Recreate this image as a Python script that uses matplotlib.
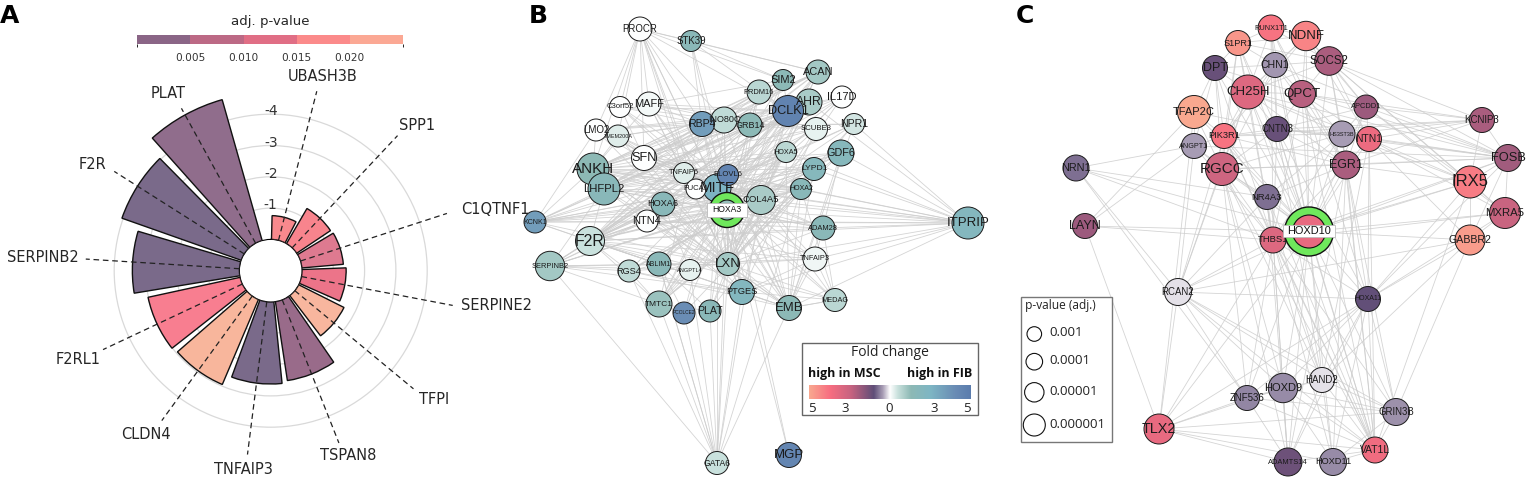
import numpy as np
import matplotlib
matplotlib.use("Agg")
import matplotlib.pyplot as plt
from matplotlib.colors import BoundaryNorm, LinearSegmentedColormap, ListedColormap, Normalize
from matplotlib.patches import Circle, Rectangle

W, H = 1529, 480

# ============================
# Panel A data
# ============================
genes = ["UBASH3B", "SPP1", "C1QTNF1", "SERPINE2", "TFPI", "TSPAN8",
         "TNFAIP3", "CLDN4", "F2RL1", "SERPINB2", "F2R", "PLAT"]
log_fc = [-0.76, -1.30, -1.33, -1.41, -1.62, -2.55,
          -2.62, -2.95, -3.01, -3.42, -4.04, -4.68]
bar_colors = ["#f8898d", "#f8848d", "#de7a90", "#ec7489", "#f8b69e", "#996b8a",
              "#7a6a8a", "#f8b69c", "#f87e90", "#7a6a8a", "#7a6a8a", "#906d8c"]
gene_label_xy = [(322.5, 76.7), (417.3, 125), (495, 209), (497, 306), (433.7, 400), (348, 455),
                 (243.7, 469.3), (146, 434.3), (77.7, 359.3), (42.7, 257.7), (92, 164.3), (168.3, 94)]
p_bounds = [0.0, 0.005, 0.010, 0.015, 0.020, 0.025]
p_bin_colors = ["#8a6586", "#bc6985", "#e06e85", "#fb8a8a", "#fba894"]

# ============================
# Panel B data
# ============================
b_names = ["PROCR", "STK39", "ACAN", "SIM2", "PRDM16", "IL17D", "AHR", "DCLK1", "MAFF", "C3orf52",
           "NPR1", "SCUBE3", "GRB14", "INO80C", "RBP4", "LMO2", "TMEM200A", "HOXA5", "GDF6", "SFN",
           "ANKH", "TNFAIP6", "MITF", "ELOVL6", "LYPD1", "FUCA1", "LHFPL2", "HOXA2", "COL4A5", "HOXA6",
           "HOXA3", "KCNK1", "NTN4", "ADAM28", "ITPRIP", "F2R", "SERPINB2", "RGS4", "ABLIM1", "ANGPTL4",
           "LXN", "TNFAIP3", "PTGES", "MEDAG", "TMTC1", "PCOLCE2", "PLAT", "EMB", "GATA6", "MGP"]
b_x = [640, 691, 818, 783, 759, 842, 809, 788, 649, 620,
       854, 816, 750, 724, 702, 596, 618, 786, 841, 644,
       593, 684, 717, 728, 814, 696, 604, 801, 761, 663,
       727, 535, 647, 823, 968, 590, 550, 629, 659, 690,
       728, 815, 742, 835, 659, 684, 710, 789, 717, 789]
b_y = [29, 41, 72, 80, 92, 97, 102, 111, 104, 107,
       124, 129, 125, 120, 124, 130, 136, 152, 153, 158,
       169, 173, 188, 175, 169, 189, 189, 189, 200, 204,
       210, 222, 221, 228, 223, 241, 266, 271, 264, 270,
       264, 259, 292, 300, 304, 313, 311, 308, 463, 455]
b_r = [12, 10.5, 12, 10.5, 12, 11, 13, 15.5, 12, 10.5,
       10.5, 11.5, 12, 13, 12.5, 11, 11, 10.5, 13, 12.5,
       16, 10.5, 14, 10.5, 11.5, 10, 16, 10.5, 14.5, 12,
       10, 11, 11, 12, 16, 14.5, 14.7, 11, 12, 10.5,
       11.5, 12, 12.5, 11.5, 13, 11, 11, 12.5, 11.5, 12.5]
b_fc = [0, 1.5, 1, 1.4, 0.7, 0, 0.9, 4.6, 0.1, 0,
        0.4, 0.2, 1.4, 0.6, 3.4, 0, 0.3, 0.7, 1.8, 0,
        1.3, 0.3, 2.6, 4.5, 1.8, 0, 1.6, 1.6, 0.9, 1.6,
        1.2, 3.4, 0, 1.5, 2, 0.5, 1, 0.6, 1.5, 0.2,
        1, 0.15, 2.1, 0.7, 1.1, 4, 1.5, 1.4, 0.5, 4.4]
b_font = [6.9, 6.9, 7.9, 8, 5.4, 8, 8.8, 9.2, 8, 5.6,
          7.6, 5.6, 6.5, 6.5, 7.6, 7, 3.9, 5.2, 7.8, 9.2,
          10.9, 5.3, 10.8, 5.5, 6.1, 5.5, 8.2, 5, 6.8, 6.7,
          0, 5, 8, 5.4, 9.5, 11.4, 5.4, 6.6, 5, 4.1,
          9.5, 5.3, 6.7, 5.3, 6, 3.5, 7.6, 9.4, 6.2, 9.5]
b_links = {
    "PROCR": "STK39 LMO2 C3orf52 MAFF TMEM200A ANKH SFN RBP4 INO80C TNFAIP6 HOXA3 MITF FUCA1 ACAN SIM2 DCLK1 LXN",
    "STK39": "RBP4 ACAN DCLK1 SIM2 HOXA3 ELOVL6",
    "ACAN": "DCLK1 RBP4 GRB14 INO80C SFN LHFPL2 MITF HOXA3 COL4A5 LXN F2R ANKH",
    "SIM2": "DCLK1 RBP4 MAFF HOXA3 MITF LXN ANKH F2R",
    "PRDM16": "DCLK1 GRB14 SFN ANKH HOXA3 LHFPL2 LXN F2R MITF",
    "IL17D": "DCLK1 RBP4 HOXA5 HOXA3 LXN MITF F2R LHFPL2",
    "AHR": "GRB14 RBP4 ANKH LHFPL2 F2R HOXA3 MITF COL4A5 LXN ABLIM1 SERPINB2",
    "DCLK1": "MAFF C3orf52 LMO2 SFN ANKH LHFPL2 NTN4 HOXA6 F2R HOXA3 MITF ELOVL6 COL4A5 LXN PTGES TMTC1 RGS4 ABLIM1 SERPINB2 KCNK1",
    "MAFF": "RBP4 GRB14 HOXA3 MITF SCUBE3 ANKH LXN TNFAIP6",
    "C3orf52": "RBP4 INO80C SFN HOXA3 MITF COL4A5",
    "NPR1": "RBP4 GRB14 LXN HOXA3 F2R EMB HOXA2 MITF",
    "SCUBE3": "INO80C RBP4 ANKH LHFPL2 F2R MITF HOXA3 LXN PTGES",
    "GRB14": "SFN ANKH LHFPL2 F2R NTN4 HOXA6 HOXA3 KCNK1 LXN",
    "INO80C": "LMO2 TMEM200A SFN ANKH LHFPL2 F2R HOXA3 MITF LXN EMB",
    "RBP4": "LMO2 TMEM200A SFN ANKH LHFPL2 F2R HOXA3 LXN EMB PTGES TMTC1",
    "LMO2": "KCNK1 ANKH HOXA3 MITF TNFAIP6 LXN",
    "TMEM200A": "SFN HOXA3 MITF COL4A5 ANKH LXN",
    "HOXA5": "ANKH LHFPL2 F2R KCNK1 HOXA3 MITF LXN ABLIM1 TMTC1 SERPINB2 EMB",
    "GDF6": "ITPRIP ANKH LHFPL2 HOXA3 MITF LXN EMB ADAM28 TMTC1 F2R RGS4",
    "SFN": "TNFAIP6 HOXA3 COL4A5 LXN LYPD1 ADAM28 HOXA2",
    "ANKH": "KCNK1 LHFPL2 TNFAIP6 MITF HOXA3 COL4A5 LXN LYPD1 HOXA2 ADAM28 EMB PTGES",
    "LHFPL2": "KCNK1 F2R SERPINB2 NTN4 HOXA3 COL4A5 LXN HOXA2 ADAM28 LYPD1",
    "TNFAIP6": "HOXA3 LXN EMB PTGES COL4A5 HOXA2 F2R KCNK1",
    "ELOVL6": "LXN EMB F2R ABLIM1 TMTC1 PTGES",
    "LYPD1": "HOXA3 MITF F2R NTN4 LXN ITPRIP TMTC1 RGS4 KCNK1 EMB",
    "HOXA2": "HOXA3 MITF F2R NTN4 LXN ITPRIP TMTC1 PLAT PCOLCE2 EMB SERPINB2 MEDAG",
    "COL4A5": "KCNK1 F2R ITPRIP EMB LXN PLAT TMTC1 ADAM28 MEDAG TNFAIP3 RGS4 SERPINB2",
    "HOXA6": "KCNK1 F2R LXN HOXA3 EMB PTGES ANGPTL4",
    "KCNK1": "NTN4 F2R HOXA3 MITF LXN HOXA2 ITPRIP ABLIM1",
    "NTN4": "F2R LXN HOXA3 EMB ADAM28 TNFAIP3 PTGES ITPRIP",
    "ADAM28": "ITPRIP HOXA3 F2R LXN MEDAG TNFAIP3 EMB",
    "ITPRIP": "NPR1 AHR HOXA3 MITF LXN F2R ANKH LHFPL2 TNFAIP3 EMB PTGES SFN HOXA5",
    "F2R": "SERPINB2 RGS4 ABLIM1 ANGPTL4 LXN HOXA3 PTGES EMB TMTC1 TNFAIP3 MEDAG",
    "SERPINB2": "RGS4 ABLIM1 ANGPTL4 LXN HOXA3 MITF TMTC1 PTGES GATA6",
    "RGS4": "TMTC1 LXN HOXA3 PTGES EMB GATA6 ABLIM1",
    "ABLIM1": "LXN HOXA3 PCOLCE2 PLAT EMB GATA6 TNFAIP3",
    "LXN": "HOXA3 MITF PTGES EMB PLAT TNFAIP3 GATA6 MEDAG",
    "TNFAIP3": "HOXA3 MEDAG EMB MITF PTGES",
    "PTGES": "HOXA3 EMB GATA6 MITF MEDAG",
    "MEDAG": "HOXA3 EMB MITF",
    "TMTC1": "GATA6 HOXA3 PLAT MITF",
    "PCOLCE2": "GATA6 HOXA3 MITF",
    "PLAT": "GATA6 HOXA3 MITF",
    "EMB": "GATA6 HOXA3 MITF MEDAG",
    "GATA6": "HOXA3 ANGPTL4 ABLIM1 COL4A5 HOXA2 MITF",
    "MGP": "HOXA3 ELOVL6",
}

# ============================
# Panel C data
# ============================
c_names = ["RUNX1T1", "NDNF", "S1PR1", "SOCS2", "CHN1", "DPT", "CH25H", "QPCT", "APCDD1", "TFAP2C",
           "KCNIP3", "CNTN3", "PIK3R1", "HS3ST3B", "NTN1", "ANGPT1", "FOSB", "RGCC", "EGR1", "NRN1",
           "IRX5", "NR4A3", "MXRA5", "LAYN", "THBS1", "HOXD10", "GABBR2", "RCAN2", "HOXA11", "HAND2",
           "HOXD9", "ZNF536", "GRIN3B", "TLX2", "VAT1L", "ADAMTS14", "HOXD11"]
c_x = [1271, 1306, 1238, 1329, 1275, 1215, 1248, 1302, 1366, 1194,
       1482, 1277, 1224, 1342, 1369, 1194, 1508, 1222, 1346, 1076,
       1470, 1267, 1505, 1085, 1273, 1309, 1470, 1178, 1368, 1322,
       1283, 1247, 1396, 1159, 1375, 1288, 1333]
c_y = [28, 36, 43, 61, 65, 68, 92, 94, 107, 112,
       120, 129, 136, 134, 139, 146, 158, 169, 165, 168,
       182, 197, 213, 226, 240, 231.5, 240, 292, 299, 380,
       388, 398, 412, 429, 450, 462, 462]
c_r = [13, 14.7, 12.5, 14.3, 12.5, 12.5, 17, 13.5, 12, 16.5,
       12.5, 12.5, 12.5, 13, 12.5, 12.5, 13.5, 16.5, 14, 13,
       16, 12.5, 15.5, 12.5, 13, 16.5, 15, 13.5, 12.5, 12.5,
       14.7, 12.5, 13.5, 15, 13, 14, 13.5]
c_fc = [-3.8, -4.2, -4.6, -2, -0.5, -1.1, -3, -2.2, -1.8, -5,
        -2, -1.1, -3.8, -0.45, -3.4, -0.45, -1.9, -2.6, -2, -0.75,
        -4, -0.75, -2.5, -1.8, -3, -3.3, -4.7, -0.15, -1.05, -0.13,
        -0.55, -0.62, -0.52, -3.3, -3.5, -1.2, -0.55]
c_font = [5.3, 9.5, 6.6, 8.3, 7.6, 9, 9.5, 9.6, 5.4, 8,
          7, 6.9, 6.7, 4, 7.4, 5.2, 9.3, 11, 9, 7.8,
          12, 6.8, 8.2, 9, 6.8, 0, 7.7, 6.9, 5, 7,
          8, 7, 6.9, 10.4, 7.5, 5.4, 6.7]
c_links = {
    "RUNX1T1": "S1PR1 NDNF CHN1 SOCS2 CH25H QPCT CNTN3 HOXD10 EGR1 THBS1",
    "NDNF": "S1PR1 CHN1 SOCS2 QPCT CH25H HOXD10 NTN1 APCDD1 PIK3R1",
    "S1PR1": "DPT CHN1 CH25H PIK3R1 SOCS2 CNTN3 RGCC HOXD10 THBS1",
    "SOCS2": "CHN1 QPCT APCDD1 KCNIP3 FOSB IRX5 NTN1 HS3ST3B EGR1 HOXD10 CH25H MXRA5",
    "CHN1": "DPT CH25H QPCT CNTN3 HOXD10 EGR1 RGCC PIK3R1 FOSB",
    "DPT": "CH25H RGCC ANGPT1 TFAP2C PIK3R1 QPCT HOXD10 THBS1",
    "CH25H": "QPCT PIK3R1 CNTN3 RGCC EGR1 HS3ST3B HOXD10 THBS1 NTN1 FOSB RCAN2 VAT1L",
    "QPCT": "APCDD1 CNTN3 HS3ST3B NTN1 EGR1 HOXD10 FOSB KCNIP3 THBS1 HOXA11 VAT1L",
    "APCDD1": "KCNIP3 FOSB HS3ST3B NTN1 IRX5 EGR1 CNTN3 HOXD10 MXRA5",
    "TFAP2C": "LAYN ANGPT1 PIK3R1 RGCC CNTN3 HOXD10 TLX2",
    "KCNIP3": "FOSB NTN1 HS3ST3B IRX5 EGR1 CNTN3 PIK3R1",
    "CNTN3": "PIK3R1 HS3ST3B NTN1 EGR1 RGCC HOXD10 THBS1 HOXA11 VAT1L FOSB HAND2",
    "PIK3R1": "ANGPT1 RGCC HS3ST3B THBS1 HOXD10 NR4A3 EGR1 RCAN2 VAT1L",
    "HS3ST3B": "NTN1 FOSB EGR1 RGCC HOXD10 IRX5 THBS1 NR4A3 VAT1L",
    "NTN1": "FOSB EGR1 IRX5 MXRA5 HOXD10 HOXA11 VAT1L GABBR2 HAND2",
    "ANGPT1": "LAYN RGCC HOXD10 THBS1 FOSB RCAN2 NRN1",
    "FOSB": "IRX5 MXRA5 EGR1 RGCC HOXD10 THBS1 GABBR2 HOXA11",
    "RGCC": "EGR1 NR4A3 THBS1 HOXD10 RCAN2 ZNF536 HAND2 VAT1L HOXD9 ADAMTS14",
    "EGR1": "IRX5 NR4A3 HOXD10 THBS1 HOXA11 VAT1L GRIN3B HOXD11 ADAMTS14",
    "NRN1": "HOXD10 NR4A3 THBS1 RCAN2 ZNF536",
    "IRX5": "HOXD10 MXRA5 GABBR2 HOXA11 THBS1 VAT1L",
    "NR4A3": "HOXD10 THBS1 RCAN2 HAND2 VAT1L ADAMTS14",
    "MXRA5": "GABBR2 HOXD10 HOXA11 THBS1",
    "LAYN": "HOXD10 THBS1 TLX2",
    "THBS1": "HOXD10 RCAN2 HOXD9 ZNF536 HAND2 VAT1L HOXA11 ADAMTS14 TLX2 HOXD11 GRIN3B",
    "HOXD10": "GABBR2 RCAN2 HOXA11 HAND2 HOXD9 ZNF536 GRIN3B TLX2 VAT1L ADAMTS14 HOXD11",
    "GABBR2": "HOXA11 GRIN3B HAND2 RCAN2",
    "RCAN2": "TLX2 ZNF536 HOXD9 VAT1L HOXA11 HAND2 GRIN3B",
    "HOXA11": "HAND2 HOXD9 GRIN3B VAT1L TLX2 ZNF536 ADAMTS14 HOXD11",
    "HAND2": "HOXD9 VAT1L GRIN3B ADAMTS14 HOXD11 ZNF536",
    "HOXD9": "ZNF536 GRIN3B VAT1L ADAMTS14 HOXD11 TLX2",
    "ZNF536": "TLX2 VAT1L GRIN3B ADAMTS14",
    "GRIN3B": "VAT1L TLX2 HOXD11",
    "TLX2": "ADAMTS14 VAT1L HOXD11",
    "VAT1L": "ADAMTS14 HOXD11",
}

# ============================
# Legends
# ============================
fold_stops = [-5, -3.7, -2.4, -1.0, -0.45, 0, 0.5, 1.3, 2.5, 4, 5]
fold_colors = ["#f9a88f", "#f76d80", "#c66380", "#5f4e78", "#a79cb4", "#ffffff",
               "#c8e0dc", "#8db9b5", "#7eb6c4", "#6a8db5", "#5b7cad"]
fold_ticks = [("5", 811.7), ("3", 845), ("0", 889), ("3", 934), ("5", 967)]
p_sizes = ["0.001", "0.0001", "0.00001", "0.000001"]
p_radii = [7.3, 8.3, 9.7, 11]
p_rows = [334, 361.7, 392.3, 425]

plt.rcParams['font.family'] = 'DejaVu Sans'
fig = plt.figure(figsize=(W / 100, H / 100), dpi=100)


def px_axes(x0, y0, x1, y1, **kw):
    return fig.add_axes([x0 / W, 1 - y1 / H, (x1 - x0) / W, (y1 - y0) / H], **kw)


# canvas in picture pixels, used for networks and labels
canvas = fig.add_axes([0, 0, 1, 1])
canvas.set_xlim(0, W)
canvas.set_ylim(H, 0)
canvas.axis("off")

# ============================
# Panel A: polar bars
# ============================
cx, cy, unit = 270.7, 270.7, 31.3
rmax = 5
outer = unit * (rmax + 1)
polar = px_axes(cx - outer, cy - outer, cx + outer, cy + outer, projection="polar")
polar.patch.set_alpha(0)
polar.set_theta_zero_location("N")
polar.set_theta_direction(-1)
polar.set_rorigin(-1)
polar.set_ylim(0, rmax)
polar.spines["polar"].set_visible(False)
polar.set_xticks([])
polar.set_yticks([1, 2, 3, 4])
polar.set_yticklabels([])
polar.tick_params(length=0)
polar.grid(color="#d9d9d9", linewidth=0.9)
polar.set_axisbelow(True)

step = 2 * np.pi / 12.5
theta = (np.arange(len(genes)) + 0.5) * step
polar.bar(theta, np.abs(log_fc), width=step * 0.9, color=bar_colors,
          edgecolor="#111111", linewidth=1, zorder=3)
for t in theta:
    polar.plot([t, t], [0, 4.92], color="#222222", lw=0.9, ls=(0, (4.5, 3)), zorder=4, clip_on=False)
for level in [1, 2, 3, 4]:
    polar.text(0, level + 0.09, f"-{level}", ha="center", va="center", fontsize=10,
               color="#333333", zorder=5)

for gene, (lx, ly) in zip(genes, gene_label_xy):
    canvas.text(lx, ly, gene, ha="center", va="center", fontsize=10.5, color="#262626")

cax = px_axes(137.3, 35, 403, 44.3)
p_norm = BoundaryNorm(p_bounds, len(p_bin_colors))
cb = fig.colorbar(plt.cm.ScalarMappable(norm=p_norm, cmap=ListedColormap(p_bin_colors)),
                  cax=cax, orientation="horizontal", spacing="proportional")
cb.set_ticks(p_bounds[1:-1])
cb.set_ticklabels([f"{p:.3f}" for p in p_bounds[1:-1]])
cb.ax.tick_params(length=0, labelsize=7.6, pad=6, colors="#333333")
cb.outline.set_visible(False)
canvas.text(270, 22, "adj. p-value", ha="center", va="center", fontsize=9.6, color="#262626")

# ============================
# Panels B and C: networks
# ============================
fold_cmap = LinearSegmentedColormap.from_list(
    "fold", [((s + 5) / 10, c) for s, c in zip(fold_stops, fold_colors)])
fold_norm = Normalize(-5, 5)


def draw_network(names, xs, ys, radii, folds, fonts, links):
    where = dict(zip(names, zip(xs, ys)))
    for src, targets in links.items():
        for dst in targets.split():
            canvas.plot([where[src][0], where[dst][0]], [where[src][1], where[dst][1]],
                        color="#cdcdcd", lw=0.6, alpha=0.85, zorder=1, solid_capstyle="butt")
    for i, name in enumerate(names):
        canvas.add_patch(Circle((xs[i], ys[i]), radii[i], fc=fold_cmap(fold_norm(folds[i])),
                                ec="#1c1c1c", lw=0.7, zorder=3 + i * 0.001))
        if fonts[i] > 0:
            canvas.text(xs[i], ys[i], name, ha="center", va="center", fontsize=fonts[i],
                        family="Liberation Sans", color="#1a1a1a", zorder=6)


def draw_hub(x, y, outer_r, inner_r, fold, name, font, box):
    canvas.add_patch(Circle((x, y), outer_r, fc="#6fe85c", ec="#111111", lw=1, zorder=4))
    canvas.add_patch(Circle((x, y), inner_r, fc=fold_cmap(fold_norm(fold)), ec="#111111", lw=0.8, zorder=4.1))
    canvas.add_patch(Rectangle((box[0], box[1]), box[2] - box[0], box[3] - box[1],
                               fc="white", ec="#bbbbbb", lw=0.6, zorder=7))
    canvas.text((box[0] + box[2]) / 2, (box[1] + box[3]) / 2, name, ha="center", va="center",
                fontsize=font, family="Liberation Sans", color="#111111", zorder=8)


draw_network(b_names, b_x, b_y, b_r, b_fc, b_font, b_links)
draw_network(c_names, c_x, c_y, c_r, c_fc, c_font, c_links)
ib, ic = b_names.index("HOXA3"), c_names.index("HOXD10")
draw_hub(b_x[ib], b_y[ib], 17.5, b_r[ib], b_fc[ib], "HOXA3", 6.2, (707, 203, 747, 217))
draw_hub(c_x[ic], c_y[ic], 24.5, c_r[ic], c_fc[ic], "HOXD10", 7.9, (1283, 225, 1335, 237))

# ============================
# Fold change legend
# ============================
canvas.add_patch(Rectangle((802, 342.7), 176, 72.6, fc="white", ec="#666666", lw=1, zorder=9))
canvas.text(890, 353, "Fold change", ha="center", va="center", fontsize=10,
            family="Open Sans", color="#222222", zorder=10)
canvas.text(807.5, 374, "high in MSC", ha="left", va="center", fontsize=9, weight="bold",
            family="Open Sans", color="#111111", zorder=10)
canvas.text(972, 374, "high in FIB", ha="right", va="center", fontsize=9, weight="bold",
            family="Open Sans", color="#111111", zorder=10)
grad = px_axes(808.7, 384.7, 970.7, 399.3)
grad.imshow(np.linspace(-5, 5, 256)[None, :], cmap=fold_cmap, norm=fold_norm, aspect="auto")
grad.axis("off")
for label, tx in fold_ticks:
    canvas.text(tx, 409, label, ha="center", va="center", fontsize=9.5,
                family="Open Sans", color="#222222", zorder=10)

# ============================
# p-value legend
# ============================
canvas.add_patch(Rectangle((1020.7, 296.7), 91, 145.3, fc="white", ec="#777777", lw=1, zorder=9))
canvas.text(1022.5, 305, " p-value (adj.)", ha="left", va="center", fontsize=8.6,
            family="Open Sans", color="#222222", zorder=10)
for label, radius, row in zip(p_sizes, p_radii, p_rows):
    canvas.add_patch(Circle((1034.3, row), radius, fc="white", ec="#111111", lw=0.8, zorder=10))
    canvas.text(1049, row - 1, label, ha="left", va="center", fontsize=9.5,
                family="Open Sans", color="#222222", zorder=10)

# Panel letters
for letter, lx in [("A", 10), ("B", 538), ("C", 1025)]:
    canvas.text(lx, 16, letter, ha="center", va="center", fontsize=18, weight="bold",
                family="DejaVu Sans", color="black", zorder=10)

fig.savefig("out.png", dpi=100)
